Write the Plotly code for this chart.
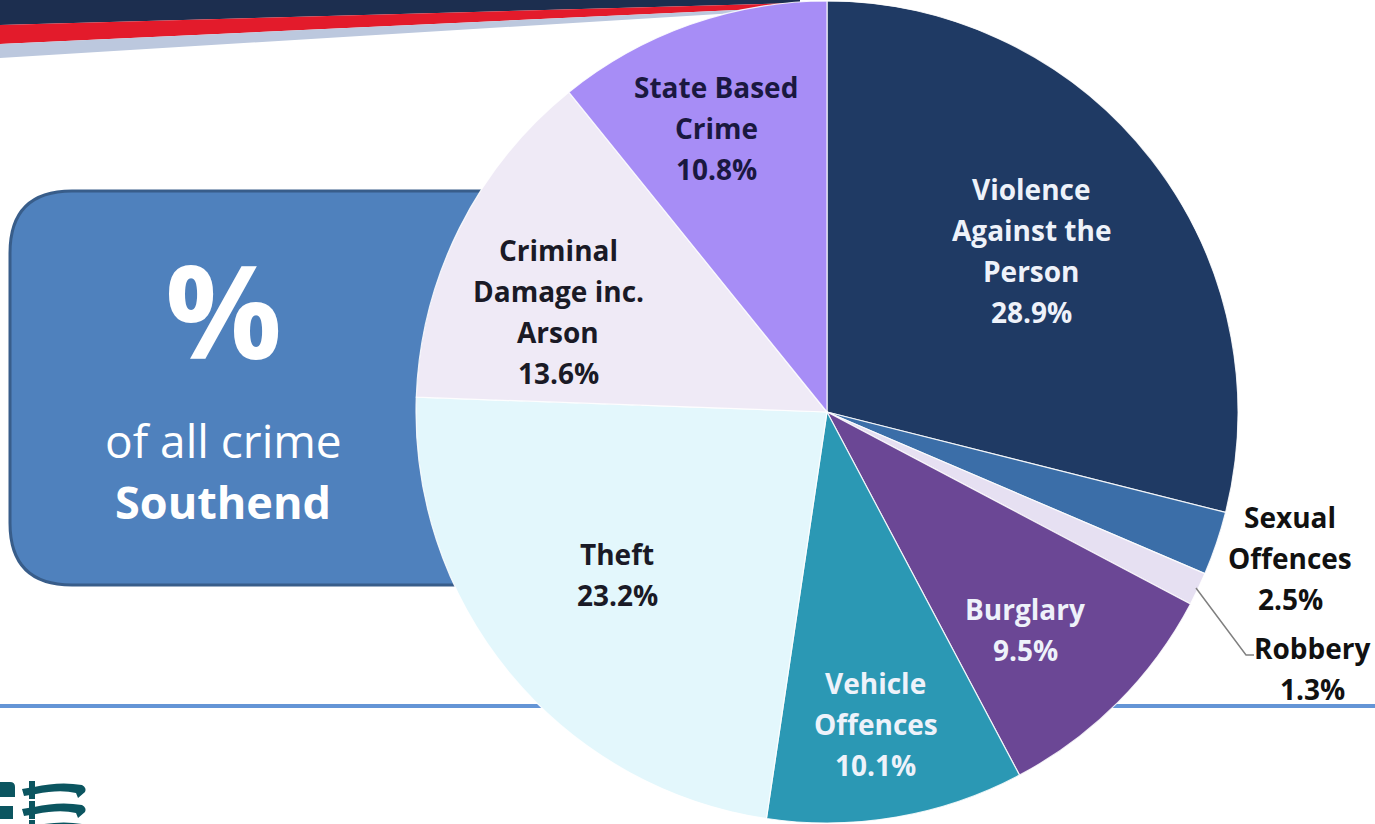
import plotly.graph_objects as go

# ---------------- data ----------------
categories = ["Violence Against the Person", "Sexual Offences", "Robbery", "Burglary",
              "Vehicle Offences", "Theft", "Criminal Damage inc. Arson", "State Based Crime"]
values = [28.9, 2.5, 1.3, 9.5, 10.1, 23.2, 13.6, 10.8]
label_lines = [["Violence", "Against the", "Person"], ["Sexual", "Offences"], ["Robbery"],
               ["Burglary"], ["Vehicle", "Offences"], ["Theft"],
               ["Criminal", "Damage inc.", "Arson"], ["State Based", "Crime"]]
colors = ["#1F3A64", "#3B6EA8", "#E6E0F2", "#6B4795", "#2B98B4", "#E3F7FC", "#EFEAF6", "#A78DF6"]
text_colors = ["#EEF2FA", "#111111", "#111111", "#EEF2FA", "#EEF2FA", "#1A1A26", "#1A1A26", "#1A1840"]

# label layout (pixel centre x, first line centre y)
label_pos = [(1031, 189), (1290, 517), (1312, 648), (1025, 609), (876, 683),
             (617, 554), (558, 250), (716, 87)]
LINE_GAP = 41

W, H = 1375, 824


def X(px):
    return px / W


def Y(py):
    return 1 - py / H


fig = go.Figure()
fig.add_trace(go.Pie(
    labels=categories, values=values, sort=False, direction="clockwise", rotation=0,
    marker=dict(colors=colors, line=dict(color="rgba(255,255,255,0.85)", width=1.2)),
    textinfo="none", hoverinfo="skip", showlegend=False,
    domain=dict(x=[X(416), X(1238)], y=[Y(823), Y(1)]),
))

annotations = []
for lines, v, (px, py), tc in zip(label_lines, values, label_pos, text_colors):
    for i, t in enumerate(lines + [f"{v:.1f}%"]):
        annotations.append(dict(
            x=X(px), y=Y(py + i * LINE_GAP), xref="paper", yref="paper",
            text=t, showarrow=False, xanchor="center", yanchor="middle",
            font=dict(family="Open Sans", size=28, color=tc, weight="bold")))

# left info box text
annotations += [
    dict(x=X(223), y=Y(308), xref="paper", yref="paper", text="<b>%</b>", showarrow=False,
         xanchor="center", yanchor="middle", font=dict(family="Open Sans", size=130, color="white")),
    dict(x=X(223), y=Y(440), xref="paper", yref="paper", text="of all crime", showarrow=False,
         xanchor="center", yanchor="middle", font=dict(family="Open Sans", size=46, color="white")),
    dict(x=X(223), y=Y(502), xref="paper", yref="paper", text="<b>Southend</b>", showarrow=False,
         xanchor="center", yanchor="middle", font=dict(family="Open Sans", size=45, color="white")),
]


def path(points, close=True):
    s = "M " + " L ".join(f"{X(a):.5f},{Y(b):.5f}" for a, b in points)
    return s + (" Z" if close else "")


shapes = []
# header stripes
shapes.append(dict(type="path", path=path([(0, 0), (800, 0), (800, 3), (0, 25)]),
                   fillcolor="#1C2E4F", line=dict(width=0), layer="below", xref="paper", yref="paper"))
shapes.append(dict(type="path", path=path([(0, 25), (800, 3), (800, 7), (0, 44)]),
                   fillcolor="#E31B2B", line=dict(width=0), layer="below", xref="paper", yref="paper"))
shapes.append(dict(type="path", path=path([(0, 44), (800, 7), (800, 9), (0, 58)]),
                   fillcolor="#BCC8DE", line=dict(width=0), layer="below", xref="paper", yref="paper"))

# rounded blue box
r = 62
x0, x1, y0, y1 = 10, 640, 191, 585
box = (f"M {X(x0 + r)},{Y(y0)} L {X(x1)},{Y(y0)} L {X(x1)},{Y(y1)} L {X(x0 + r)},{Y(y1)} "
       f"Q {X(x0)},{Y(y1)} {X(x0)},{Y(y1 - r)} L {X(x0)},{Y(y0 + r)} "
       f"Q {X(x0)},{Y(y0)} {X(x0 + r)},{Y(y0)} Z")
shapes.append(dict(type="path", path=box, fillcolor="#4F81BD", line=dict(color="#385D8A", width=3),
                   layer="below", xref="paper", yref="paper"))

# horizontal rule
shapes.append(dict(type="line", x0=0, x1=1, y0=Y(706), y1=Y(706), xref="paper", yref="paper",
                   line=dict(color="#6495D6", width=4), layer="below"))

# robbery leader line
shapes.append(dict(type="path", path=path([(1196, 588), (1246, 655), (1254, 655)], close=False),
                   line=dict(color="#808080", width=1.5), xref="paper", yref="paper"))

# logo (partial, bottom-left)
teal = "#0B5560"
shapes.append(dict(type="path",
                   path=(f"M {X(0)},{Y(782)} L {X(10)},{Y(782)} Q {X(15)},{Y(782)} {X(15)},{Y(787)} "
                         f"L {X(15)},{Y(797)} L {X(0)},{Y(797)} Z"),
                   fillcolor=teal, line=dict(width=0), xref="paper", yref="paper", layer="below"))
shapes.append(dict(type="path", path=path([(0, 806), (13, 806), (13, 819), (0, 819)]),
                   fillcolor=teal, line=dict(width=0), xref="paper", yref="paper", layer="below"))
for yb in (790, 810, 829):
    blade = (f"M {X(22)},{Y(yb - 1)} L {X(34)},{Y(yb - 3)} "
             f"Q {X(60)},{Y(yb - 9)} {X(82)},{Y(yb - 5)} Q {X(87)},{Y(yb - 2)} {X(85)},{Y(yb + 2)} "
             f"L {X(78)},{Y(yb + 8)} L {X(76)},{Y(yb + 3)} "
             f"Q {X(60)},{Y(yb - 1)} {X(36)},{Y(yb + 4)} L {X(24)},{Y(yb + 6)} Z")
    shapes.append(dict(type="path", path=blade, fillcolor=teal, line=dict(width=0),
                       xref="paper", yref="paper", layer="below"))
    shapes.append(dict(type="path", path=path([(29, yb - 9), (35, yb - 9), (35, yb + 9), (29, yb + 9)]),
                       fillcolor=teal, line=dict(width=0), xref="paper", yref="paper", layer="below"))

fig.update_layout(
    width=W, height=H, margin=dict(l=0, r=0, t=0, b=0),
    paper_bgcolor="white", plot_bgcolor="white",
    annotations=annotations, shapes=shapes, showlegend=False,
)

fig.write_html("out.html")
